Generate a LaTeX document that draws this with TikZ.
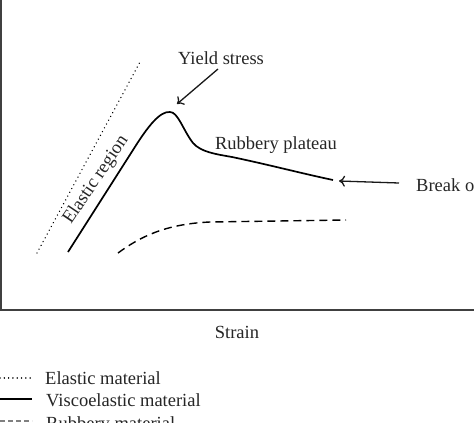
\documentclass[tikz,border=0pt]{standalone}
\usepackage{fontspec}
\setmainfont{Liberation Serif}
\usetikzlibrary{arrows.meta}
\begin{document}
\begin{tikzpicture}[x=1pt,y=-1pt,
  lbl/.style={inner sep=0pt,font=\fontsize{18.5}{21}\selectfont,text=black!85},
  axis/.style={draw=black!75,line width=2pt},
  curve/.style={draw=black,line width=1.7pt},
  dotline/.style={draw=black,line width=1.5pt,dash pattern=on 0.01pt off 4.3pt,line cap=round},
  dashline/.style={draw=black,line width=1.4pt,dash pattern=on 8pt off 5pt},
  pointer/.style={draw=black!90,line width=1.3pt,-{To[length=6pt,width=11pt,line width=1.3pt]}}]
\useasboundingbox (0,0) rectangle (474,423);
\clip (0,0) rectangle (474,423);
\fill[white] (0,0) rectangle (474,423);
% axes
\coordinate (o) at (1,310);
\coordinate (ytop) at (1,0);
\coordinate (xend) at (474,310);
\draw[axis] (ytop) -- (o) -- (xend);
% elastic (dotted)
\coordinate (e1) at (37,253);
\coordinate (e2) at (140,62);
\draw[dotline] (e1) -- (e2);
% viscoelastic (solid)
\coordinate (v0) at (68,252);
\coordinate (v1) at (133,150);
\coordinate (peak) at (170,112);
\coordinate (v2) at (193,143);
\coordinate (v3) at (333,180);
\draw[curve] (v0) -- (v1) .. controls (148,126) and (160,111) .. (peak)
  .. controls (178,112) and (183,130) .. (v2)
  .. controls (201,152) and (215,154) .. (232,157)
  .. controls (270,165) and (300,173) .. (v3);
% rubbery (dashed)
\coordinate (r0) at (118,253);
\coordinate (r1) at (346,220);
\draw[dashline] (r0) .. controls (140,237) and (165,224) .. (210,222) -- (r1);
% labels
\node[lbl] (yield) at (221,58) {Yield stress};
\node[lbl] (plateau) at (276,145) {Rubbery plateau};
\node[lbl,anchor=west] (break) at (416,185) {Break off};
\node[lbl,rotate=56] (elreg) at (96,180) {Elastic region};
\node[lbl] (strain) at (237,332) {Strain};
\coordinate (ya) at (218,69);
\coordinate (yb) at (177,104);
\draw[pointer] (ya) -- (yb);
\coordinate (ba) at (399,183);
\coordinate (bb) at (339,181);
\draw[pointer] (ba) -- (bb);
% legend
\coordinate (l1a) at (0,378);
\coordinate (l1b) at (32,378);
\draw[dotline] (l1a) -- (l1b);
\node[lbl,anchor=west] (leg1) at (45,378) {Elastic material};
\coordinate (l2a) at (0,399);
\coordinate (l2b) at (32,399);
\draw[curve] (l2a) -- (l2b);
\node[lbl,anchor=west] (leg2) at (46,400) {Viscoelastic material};
\coordinate (l3a) at (0,421);
\coordinate (l3b) at (32,421);
\draw[dashline,dash pattern=on 5pt off 3pt,draw=black!50] (l3a) -- (l3b);
\node[lbl,anchor=west] (leg3) at (46,425) {Rubbery material};
\end{tikzpicture}
\end{document}
